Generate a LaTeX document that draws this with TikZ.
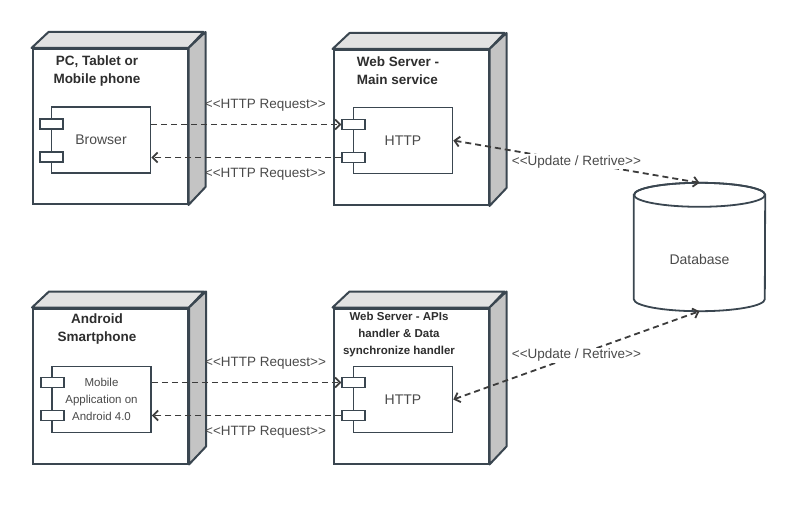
\documentclass[tikz,border=0pt]{standalone}
\usepackage{fontspec}
\setmainfont{Liberation Sans}
\usepackage{tikz}
\usetikzlibrary{arrows.meta, positioning}

\definecolor{edgegray}{HTML}{3A4650}
\definecolor{topgray}{HTML}{E2E2E2}
\definecolor{sidegray}{HTML}{C4C4C4}
\definecolor{textgray}{HTML}{4A4A4A}
\definecolor{titlegray}{HTML}{2E2E2E}
\definecolor{arrowgray}{HTML}{3C3C3C}

\tikzset{
	devbox/.style={draw=edgegray, line width=2pt, fill=white, minimum width=155pt, minimum height=155pt, inner sep=0pt},
	topface/.style={draw=edgegray, line width=2pt, fill=topgray, line join=round},
	sideface/.style={draw=edgegray, line width=2pt, fill=sidegray, line join=round},
	comp/.style={draw=edgegray, line width=1.6pt, fill=white, minimum width=99pt, minimum height=66pt, inner sep=0pt, text=textgray, font=\fontsize{14}{17}\selectfont},
	port/.style={draw=edgegray, line width=1.6pt, fill=white, minimum width=23pt, minimum height=10pt, inner sep=0pt},
	boxtitle/.style={font=\fontsize{13.5}{18}\selectfont\bfseries, text=titlegray, align=center, inner sep=0pt},
	lbl/.style={font=\fontsize{13.5}{15}\selectfont, text=textgray, inner sep=1pt},
	dep/.style={draw=arrowgray, line width=1.8pt, dash pattern=on 6pt off 4pt}
}

\begin{document}
\begin{tikzpicture}[x=1pt, y=-1pt, >={Straight Barb[length=5pt, width=10pt]}]

	\useasboundingbox (0,0) rectangle (800,508);

	% client nodes
	\node[devbox] (pc) at (110,126.5) {};
	\draw[topface] (pc.north west) -- ++(17,-16) -- ++(155,0) -- (pc.north east) -- cycle;
	\draw[sideface] (pc.north east) -- ++(17,-16) -- ++(0,155) -- (pc.south east) -- cycle;
	\node[boxtitle] (pctitle) at (97,71) {PC, Tablet or\\Mobile phone};

	\node[devbox] (android) at (110.5,386) {};
	\draw[topface] (android.north west) -- ++(17,-16) -- ++(155,0) -- (android.north east) -- cycle;
	\draw[sideface] (android.north east) -- ++(17,-16) -- ++(0,155) -- (android.south east) -- cycle;
	\node[boxtitle] (androidtitle) at (97,329) {Android\\Smartphone};

	% server nodes
	\node[devbox] (main) at (411,127.5) {};
	\draw[topface] (main.north west) -- ++(17,-16) -- ++(155,0) -- (main.north east) -- cycle;
	\draw[sideface] (main.north east) -- ++(17,-16) -- ++(0,155) -- (main.south east) -- cycle;
	\node[boxtitle, align=left] (maintitle) at (398,71) {Web Server -\\Main service};

	\node[devbox] (api) at (411,386) {};
	\draw[topface] (api.north west) -- ++(17,-16) -- ++(155,0) -- (api.north east) -- cycle;
	\draw[sideface] (api.north east) -- ++(17,-16) -- ++(0,155) -- (api.south east) -- cycle;
	\node[boxtitle, font=\fontsize{11.5}{17}\selectfont\bfseries] (apititle) at (399,335) {Web Server - APIs\\handler \& Data\\synchronize handler};

	% components
	\node[comp] (browser) at (101,140) {Browser};
	\node[port] (browserp1) at ([xshift=1pt, yshift=16pt]browser.west) {};
	\node[port] (browserp2) at ([xshift=1pt, yshift=-17pt]browser.west) {};

	\node[comp, align=center, font=\fontsize{11.5}{17}\selectfont] (mobile) at (101.5,399.5) {Mobile\\Application on\\Android 4.0};
	\node[port] (mobilep1) at ([xshift=1pt, yshift=17pt]mobile.west) {};
	\node[port] (mobilep2) at ([xshift=1pt, yshift=-16pt]mobile.west) {};

	\node[comp] (mainhttp) at (403,140.5) {HTTP};
	\node[port] (mainp1) at ([xshift=1pt, yshift=16pt]mainhttp.west) {};
	\node[port] (mainp2) at ([xshift=1pt, yshift=-17pt]mainhttp.west) {};

	\node[comp] (apihttp) at (403,399.5) {HTTP};
	\node[port] (apip1) at ([xshift=1pt, yshift=17pt]apihttp.west) {};
	\node[port] (apip2) at ([xshift=1pt, yshift=-16pt]apihttp.west) {};

	% database
	\node[minimum width=131pt, minimum height=128pt, inner sep=0pt] (db) at (699.5,247) {};
	\draw[draw=edgegray, line width=1.8pt, fill=white] ([yshift=-12pt]db.north west) -- ([yshift=12pt]db.south west)
		arc[start angle=180, end angle=360, x radius=65.5pt, y radius=12pt] -- ([yshift=-12pt]db.north east)
		arc[start angle=0, end angle=180, x radius=65.5pt, y radius=12pt] -- cycle;
	\draw[draw=edgegray, line width=1.8pt] ([yshift=-12pt]db.north) ellipse[x radius=65.5pt, y radius=12pt];
	\node[lbl, font=\fontsize{14}{17}\selectfont] (dbname) at (699.5,259) {Database};

	% connectors
	\draw[dep, ->] (browser.east |- mainp1.west) -- node[lbl, above=11pt, pos=0.6] (req1) {{<}{<}HTTP Request{>}{>}} (mainp1.west);
	\draw[dep, ->] (mainp2.west) -- node[lbl, below=9pt, pos=0.4] (req2) {{<}{<}HTTP Request{>}{>}} (browser.east |- mainp2.west);

	\draw[dep, ->] (mobile.east |- apip1.west) -- node[lbl, above=11pt, pos=0.6] (req3) {{<}{<}HTTP Request{>}{>}} (apip1.west);
	\draw[dep, ->] (apip2.west) -- node[lbl, below=9pt, pos=0.4] (req4) {{<}{<}HTTP Request{>}{>}} (mobile.east |- apip2.west);

	\draw[dep, <->] (mainhttp.east) -- node[lbl, fill=white] (upd1) {{<}{<}Update / Retrive{>}{>}} (db.north);
	\draw[dep, <->] (apihttp.east) -- node[lbl, fill=white] (upd2) {{<}{<}Update / Retrive{>}{>}} (db.south);

\end{tikzpicture}
\end{document}
